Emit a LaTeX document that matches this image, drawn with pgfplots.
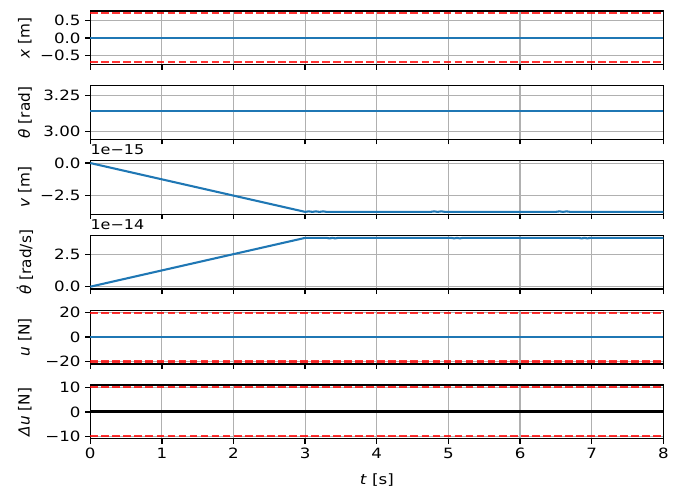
\documentclass[border=0pt]{standalone}
\usepackage{fontspec}
\setmainfont{DejaVu Sans}
\usepackage{pgfplots}
\pgfplotsset{compat=1.18}

\definecolor{tabblue}{RGB}{31,119,180}
\definecolor{gridgray}{RGB}{176,176,176}

\newcommand{\lbl}{\fontsize{11}{13}\selectfont}
\newcommand{\tck}{\fontsize{12}{14}\selectfont}

\pgfplotsset{
  panel/.style={
    width=412.6pt, height=38.7pt, scale only axis,
    xmin=0, xmax=8, xtick={0,1,...,8}, xticklabels={},
    grid=major, grid style={line width=0.8pt, gridgray},
    tick align=outside, xtick pos=bottom, ytick pos=left,
    major tick length=3.5pt,
    axis line style={line width=1pt},
    every tick/.style={black, line width=1pt},
    tick label style={font=\tck, yscale=0.85},
    ylabel style={font=\lbl, at={(axis description cs:-0.114,0.5)}, anchor=center},
    scaled y ticks=false, clip=false,
    anchor=north west,
  },
  sig/.style={tabblue, line width=1.5pt},
  lim/.style={red, opacity=0.8, line width=1.5pt, dash pattern=on 5.55pt off 2.4pt},
}

\begin{document}
\begin{tikzpicture}
\useasboundingbox (-65pt,7.92pt) rectangle (423.9pt,-352.1pt);

% x
\begin{axis}[panel, name=p1, at={(0pt,0pt)},
    ymin=-0.77, ymax=0.77, ytick={-0.5,0,0.5}, yticklabels={−0.5,0.0,0.5},
    ylabel={\textit{x} [m]}]
  \addplot[sig] coordinates {(0,0) (8,0)};
  \addplot[lim] coordinates {(0,0.7) (8,0.7)};
  \addplot[lim] coordinates {(0,-0.7) (8,-0.7)};
\end{axis}

% theta
\begin{axis}[panel, name=p2, at={(0pt,-53.86pt)},
    ymin=2.947, ymax=3.315, ytick={3.0,3.25}, yticklabels={3.00,3.25},
    ylabel={\textit{θ} [rad]}]
  \addplot[sig] coordinates {(0,3.14159) (8,3.14159)};
\end{axis}

% v
\begin{axis}[panel, name=p3, at={(0pt,-107.72pt)},
    ymin=-3.96e-15, ymax=0.19e-15, ytick={-2.5e-15,0}, yticklabels={−2.5,0.0},
    ylabel={\textit{v} [m]}]
  \addplot[sig] coordinates {
    (0,0) (3,-3.77e-15)
    (3.05,-3.73e-15) (3.1,-3.77e-15) (3.15,-3.73e-15) (3.2,-3.77e-15) (3.25,-3.73e-15) (3.3,-3.77e-15)
    (4.75,-3.77e-15) (4.8,-3.73e-15) (4.85,-3.77e-15) (4.9,-3.73e-15) (4.95,-3.77e-15)
    (6.5,-3.77e-15) (6.55,-3.73e-15) (6.6,-3.77e-15) (6.65,-3.73e-15) (6.7,-3.77e-15)
    (8,-3.77e-15)};
\end{axis}
\node[anchor=base west, inner sep=0pt, yshift=4.3pt, yscale=0.85,
  font=\fontsize{11.5}{13}\selectfont] at (p3.north west) {1e−15};

% theta dot
\begin{axis}[panel, name=p4, at={(0pt,-161.58pt)},
    ymin=-0.19e-14, ymax=3.96e-14, ytick={0,2.5e-14}, yticklabels={0.0,2.5},
    ylabel={\textit{θ̇} [rad/s]}]
  \addplot[sig] coordinates {
    (0,0) (3,3.77e-14)
    (3.3,3.77e-14) (3.34,3.73e-14) (3.38,3.77e-14) (3.42,3.73e-14) (3.46,3.77e-14)
    (5.04,3.77e-14) (5.08,3.73e-14) (5.12,3.77e-14) (5.16,3.73e-14) (5.2,3.77e-14)
    (6.82,3.77e-14) (6.86,3.73e-14) (6.9,3.77e-14) (6.94,3.73e-14) (6.98,3.77e-14)
    (8,3.77e-14)};
\end{axis}
\node[anchor=base west, inner sep=0pt, yshift=4.3pt, yscale=0.85,
  font=\fontsize{11.5}{13}\selectfont] at (p4.north west) {1e−14};

% u
\begin{axis}[panel, name=p5, at={(0pt,-215.44pt)},
    ymin=-22, ymax=22, ytick={-20,0,20}, yticklabels={−20,0,20},
    ylabel={\textit{u} [N]}]
  \addplot[sig] coordinates {(0,0) (8,0)};
  \addplot[lim] coordinates {(0,20) (8,20)};
  \addplot[lim] coordinates {(0,-20) (8,-20)};
\end{axis}

% delta u
\begin{axis}[panel, name=p6, at={(0pt,-269.3pt)},
    ymin=-11, ymax=11, ytick={-10,0,10}, yticklabels={−10,0,10},
    xticklabels={0,1,2,3,4,5,6,7,8},
    ylabel={\textit{Δu} [N]},
    xlabel={\textit{t} [s]},
    xlabel style={font=\tck, yscale=0.85, at={(axis description cs:0.5,-0.762)}, anchor=center}]
  \addplot[black, line width=2pt] coordinates {(0,0) (8,0)};
  \addplot[lim] coordinates {(0,10) (8,10)};
  \addplot[lim] coordinates {(0,-10) (8,-10)};
\end{axis}
\end{tikzpicture}
\end{document}
